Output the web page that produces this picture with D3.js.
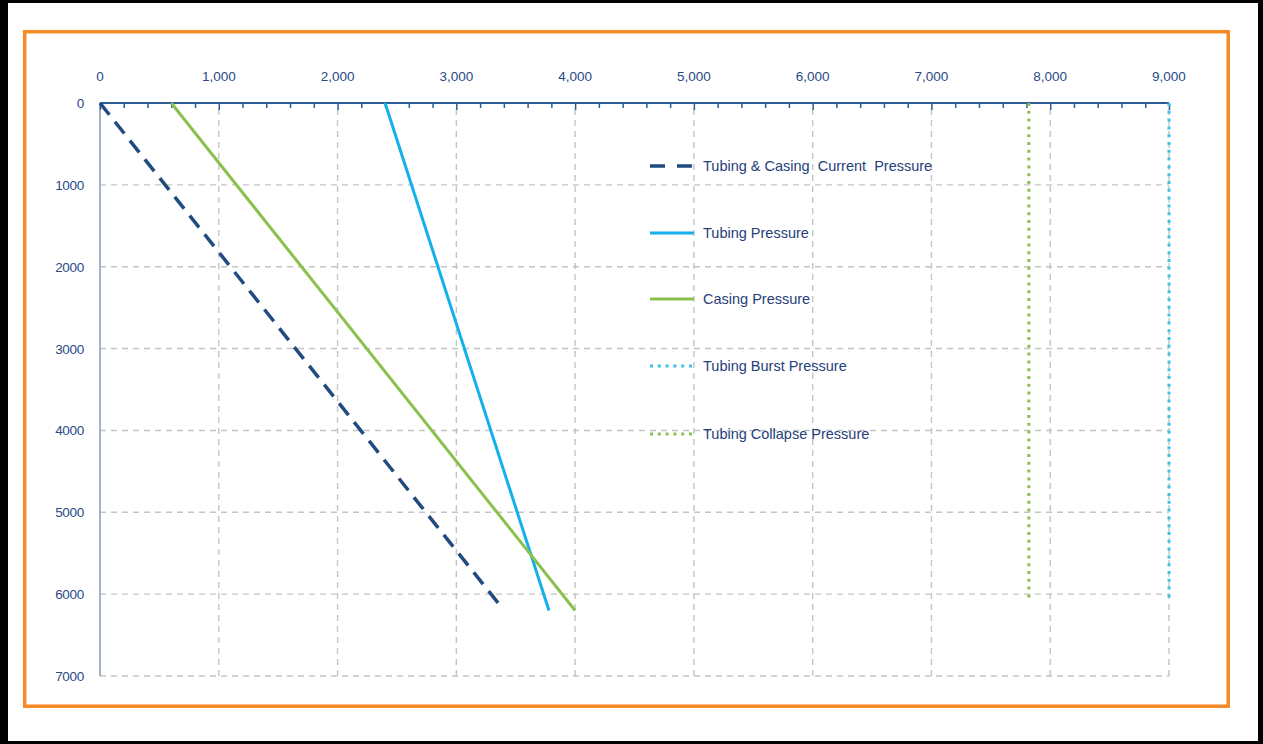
<!DOCTYPE html>
<html><head><meta charset="utf-8">
<script src="https://cdn.jsdelivr.net/npm/d3@7"></script>
<style>body{margin:0;background:#000;} svg{display:block;}</style>
</head><body>
<svg id="c" width="1263" height="744"></svg>
<script>
const xTicks = [0,1000,2000,3000,4000,5000,6000,7000,8000,9000];
const yTicks = [0,1000,2000,3000,4000,5000,6000,7000];
const currentPressure = [[0,0],[3380,6160]];
const tubingPressure = [[2400,0],[3780,6200]];
const casingPressure = [[600,0],[4000,6200]];
const tubingBurst = [[9000,0],[9000,6100]];
const tubingCollapse = [[7820,0],[7820,6100]];
const seriesNames = ["Tubing & Casing  Current  Pressure","Tubing Pressure","Casing Pressure","Tubing Burst Pressure","Tubing Collapse Pressure"];

const svg = d3.select("#c");
svg.append("rect").attr("x",0).attr("y",0).attr("width",1263).attr("height",744).attr("fill","#000");
svg.append("rect").attr("x",8).attr("y",3).attr("width",1250).attr("height",738).attr("fill","#fff");
svg.append("rect").attr("x",24.7).attr("y",31.7).attr("width",1203.5).attr("height",674.5)
  .attr("fill","none").attr("stroke","#f58a26").attr("stroke-width",3.5);

const x = d3.scaleLinear().domain([0,9000]).range([100,1169]);
const y = d3.scaleLinear().domain([0,7000]).range([103,676]);

const grid = svg.append("g").attr("stroke","#c4c4c4").attr("stroke-width",1.4).attr("stroke-dasharray","6,5");
xTicks.slice(1).forEach(v=>grid.append("line").attr("x1",x(v)).attr("x2",x(v)).attr("y1",y(0)+6).attr("y2",y(7000)));
yTicks.slice(1).forEach(v=>grid.append("line").attr("x1",x(0)).attr("x2",x(9000)).attr("y1",y(v)).attr("y2",y(v)));

svg.append("line").attr("x1",x(0)).attr("x2",x(0)).attr("y1",y(0)).attr("y2",y(7000))
  .attr("stroke","#8898b8").attr("stroke-width",1.5);

const xAxis = d3.axisTop(x).tickValues(d3.range(0,9001,200)).tickSize(-5).tickFormat("");
const gx = svg.append("g").attr("transform",`translate(0,${y(0)})`).call(xAxis);
gx.select(".domain").attr("stroke","#2d5e96").attr("stroke-width",2).attr("d",`M${x(0)},0H${x(9000)}`);
gx.selectAll(".tick line").attr("stroke","#2d5e96").attr("stroke-width",1.5)
  .attr("y2",d=> d%1000===0 ? 7 : 5);
svg.append("g").selectAll("text").data(xTicks).join("text")
  .attr("x",d=>x(d)).attr("y",81).attr("text-anchor","middle")
  .attr("font-family","Liberation Sans, Arial, sans-serif").attr("font-size",13.5).attr("fill","#2a4a86")
  .text(d=>d3.format(",")(d));
svg.append("g").selectAll("text").data(yTicks).join("text")
  .attr("x",84).attr("y",d=>y(d)+5).attr("text-anchor","end")
  .attr("font-family","Liberation Sans, Arial, sans-serif").attr("font-size",13.5).attr("fill","#2a4a86")
  .attr("letter-spacing",-0.3)
  .text(d=>d);

const line = d3.line().x(d=>x(d[0])).y(d=>y(d[1]));
const styles = [
  {data:currentPressure,color:"#1f4b7f",w:3.5,dash:"15,9"},
  {data:tubingPressure,color:"#14b0ec",w:3,dash:null},
  {data:casingPressure,color:"#8cc04e",w:3,dash:null},
  {data:tubingBurst,color:"#3cc0f0",w:3,dash:"3,4.8"},
  {data:tubingCollapse,color:"#8cc04e",w:3,dash:"3,4.8"}
];
styles.forEach(s=>{
  const p = svg.append("path").attr("d",line(s.data)).attr("fill","none")
    .attr("stroke",s.color).attr("stroke-width",s.w);
  if(s.dash) p.attr("stroke-dasharray",s.dash);
});

const legY = [166,233,299,366,434];
const leg = svg.append("g");
seriesNames.forEach((n,i)=>{
  const s = styles[i];
  const l = leg.append("line").attr("x1",650).attr("x2",694).attr("y1",legY[i]).attr("y2",legY[i])
    .attr("stroke",s.color).attr("stroke-width",s.w);
  if(s.dash) l.attr("stroke-dasharray", i===0 ? "15,12" : s.dash);
  leg.append("text").attr("x",703).attr("y",legY[i]+5)
    .attr("font-family","Liberation Sans, Arial, sans-serif").attr("font-size",14.5).attr("fill","#26407a")
    .attr("xml:space","preserve").style("white-space","pre")
    .text(n);
});
</script>
</body></html>
